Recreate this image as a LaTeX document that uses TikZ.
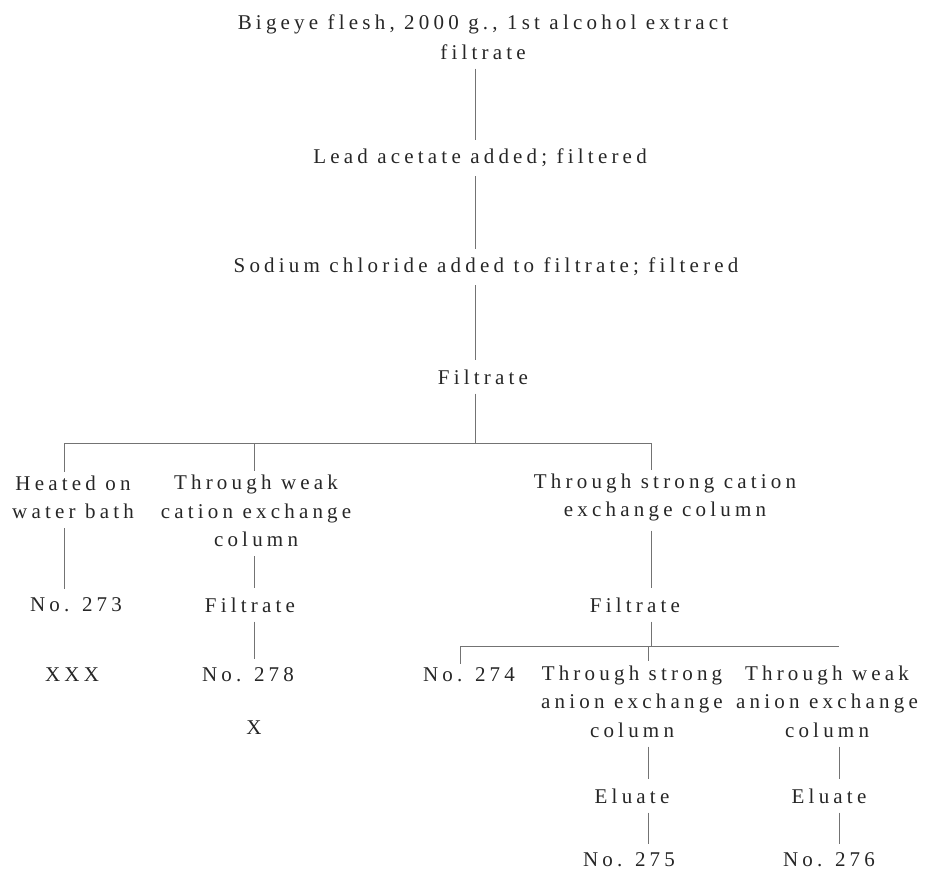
\documentclass[tikz,border=0pt]{standalone}
\usepackage{fontspec}
\setmainfont{Liberation Serif}[LetterSpace=20]
\begin{document}
\begin{tikzpicture}[x=1pt,y=-1pt,
  lbl/.style={font=\fontsize{21}{28.5}\selectfont, align=center, inner sep=0pt, text=black!85},
  conn/.style={draw=black!55, line width=0.9pt, shorten <=9pt, shorten >=9pt},
  bar/.style={draw=black!55, line width=0.9pt},
  drop/.style={draw=black!55, line width=0.9pt, shorten >=4pt},
]
\useasboundingbox (0,0) rectangle (925,873);
% column coordinates
\coordinate (mx) at (475,0);
\coordinate (cA) at (64,0);
\coordinate (cB) at (254,0);
\coordinate (cC) at (651,0);
\coordinate (cD) at (460,0);
\coordinate (cE) at (648,0);
\coordinate (cF) at (839,0);
\coordinate (h1) at (0,443);
\coordinate (h2) at (0,646);

% nodes
\node[lbl] (title) at (483,37) {Bigeye flesh, 2000 g., 1st alcohol extract\\[1.5pt]filtrate};
\node[lbl] (lead) at (480,158) {Lead acetate added;  filtered};
\node[lbl] (sodium) at (486,267) {Sodium chloride added to filtrate; filtered};
\node[lbl] (filtA) at (483,377) {Filtrate};

\node[lbl] (heated) at (73,497.5) {Heated on\\water bath};
\node[lbl] (weakcat) at (256,511) {Through weak\\cation exchange\\column};
\node[lbl] (strongcat) at (665,497.5) {Through strong cation\\exchange column};

\node[lbl] (no273) at (76,605) {No. 273};
\node[lbl] (filtB) at (250,605) {Filtrate};
\node[lbl] (filtC) at (635,605) {Filtrate};

\node[lbl] (xxx) at (72,675) {XXX};
\node[lbl] (no278) at (248,675) {No. 278};
\node[lbl] (no274) at (469,675) {No. 274};
\node[lbl] (stronganion) at (632,701.5) {Through strong\\anion exchange\\column};
\node[lbl] (weakanion) at (827,701.5) {Through weak\\anion exchange\\column};

\node[lbl] (x) at (254,728) {X};
\node[lbl] (eluL) at (632,796) {Eluate};
\node[lbl] (eluR) at (829,796) {Eluate};
\node[lbl] (no275) at (629,860) {No. 275};
\node[lbl] (no276) at (829,860) {No. 276};

% main trunk
\draw[conn] (title.south -| mx) -- (lead.north -| mx);
\draw[conn] (lead.south -| mx) -- (sodium.north -| mx);
\draw[conn] (sodium.south -| mx) -- (filtA.north -| mx);
\draw[conn, shorten >=0pt] (filtA.south -| mx) -- (h1 -| mx);

% first branching
\draw[bar] (h1 -| cA) -- (h1 -| cC);
\draw[drop] (h1 -| cA) -- (heated.north -| cA);
\draw[drop] (h1 -| cB) -- (weakcat.north -| cB);
\draw[drop] (h1 -| cC) -- (strongcat.north -| cC);

% left columns
\draw[conn] (heated.south -| cA) -- (no273.north -| cA);
\draw[conn] (weakcat.south -| cB) -- (filtB.north -| cB);
\draw[conn] (filtB.south -| cB) -- (no278.north -| cB);

% right column
\draw[conn] (strongcat.south -| cC) -- (filtC.north -| cC);
\draw[conn, shorten >=0pt] (filtC.south -| cC) -- (h2 -| cC);

% second branching
\draw[bar] (h2 -| cD) -- (h2 -| cF);
\draw[drop] (h2 -| cD) -- (no274.north -| cD);
\draw[drop] (h2 -| cE) -- (stronganion.north -| cE);

\draw[conn] (stronganion.south -| cE) -- (eluL.north -| cE);
\draw[conn] (eluL.south -| cE) -- (no275.north -| cE);
\draw[conn] (weakanion.south -| cF) -- (eluR.north -| cF);
\draw[conn] (eluR.south -| cF) -- (no276.north -| cF);
\end{tikzpicture}
\end{document}
